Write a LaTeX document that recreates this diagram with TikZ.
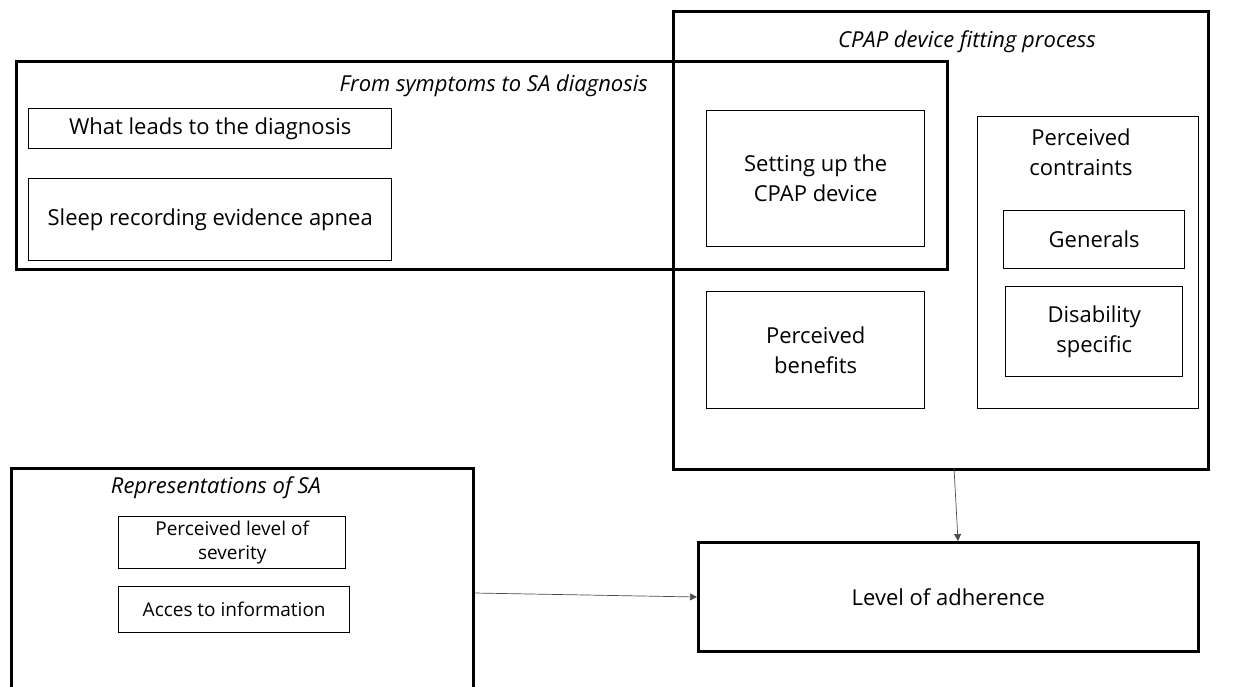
\documentclass[tikz,border=0pt]{standalone}
\usepackage{fontspec}
\setmainfont{Open Sans}
\usetikzlibrary{arrows.meta}
\begin{document}
\begin{tikzpicture}[x=1pt,y=-1pt,
  thick box/.style={draw, line width=2.6pt, inner sep=0pt},
  thin box/.style={draw, line width=1.4pt, inner sep=0pt, align=center, font=\fontsize{22}{30}\selectfont},
  small box/.style={draw, line width=1.4pt, inner sep=0pt, align=center, font=\fontsize{19}{24}\selectfont},
  title/.style={font=\fontsize{22}{28}\selectfont\itshape, inner sep=0pt},
  conn/.style={draw=black!70, line width=0.7pt, -{Triangle[length=7pt,width=7pt]}}]
\useasboundingbox (0,0) rectangle (1239,686);
\begin{scope}
\clip (0,0) rectangle (1239,686);
% outer frames
\node[thick box, minimum width=535pt, minimum height=458pt, anchor=north west] (cpap) at (672,10) {};
\node[thick box, minimum width=931pt, minimum height=208pt, anchor=north west] (sympt) at (15,60) {};
\node[thick box, minimum width=462pt, minimum height=230pt, anchor=north west] (repr) at (10,467) {};
\node[thick box, minimum width=500pt, minimum height=109pt, anchor=north west, font=\fontsize{22}{28}\selectfont] (adh) at (697,541) {Level of adherence};
% titles
\node[title, anchor=east] (tsympt) at (648,86) {From symptoms to SA diagnosis};
\node[title] (tcpap) at (967,42) {CPAP device fitting process};
\node[title] (trepr) at (216,488) {Representations of SA};
% inner boxes
\node[thin box, minimum width=363pt, minimum height=40pt, anchor=north west] (lead) at (28,108) {What leads to the diagnosis};
\node[thin box, minimum width=363pt, minimum height=82pt, anchor=north west] (sleep) at (28,178) {Sleep recording evidence apnea};
\node[thin box, minimum width=218pt, minimum height=136pt, anchor=north west] (setup) at (706,110) {Setting up the\\CPAP device};
\node[thin box, minimum width=218pt, minimum height=117pt, anchor=north west] (benef) at (706,291) {Perceived\\benefits};
\node[draw, line width=1.4pt, minimum width=221pt, minimum height=292pt, anchor=north west, inner sep=0pt] (constr) at (977,116) {};
\node[font=\fontsize{22}{30}\selectfont, align=center, inner sep=0pt] (tconstr) at (1081,152) {Perceived\\contraints};
\node[thin box, minimum width=181pt, minimum height=58pt, anchor=north west] (gen) at (1003,210) {Generals};
\node[thin box, minimum width=177pt, minimum height=90pt, anchor=north west] (dis) at (1005,286) {Disability\\specific};
\node[small box, minimum width=227pt, minimum height=52pt, anchor=north west] (sev) at (118,516) {Perceived level of\\severity};
\node[small box, minimum width=231pt, minimum height=46pt, anchor=north west] (info) at (118,586) {Acces to information};
\end{scope}
% connectors
\draw[conn] (repr.east |- 0,593) -- (adh.west |- 0,597);
\draw[conn] (954,468) -- (958,541);
\end{tikzpicture}
\end{document}
